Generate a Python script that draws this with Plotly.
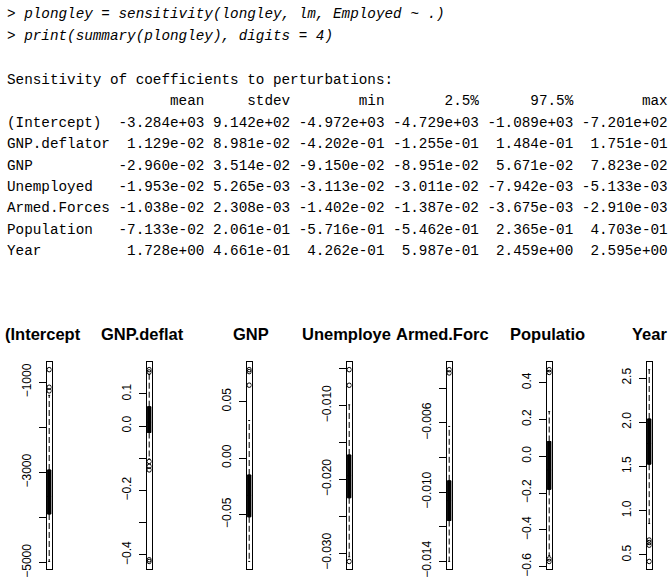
import plotly.graph_objects as go

W, H = 669, 585

# ---------------- console text data ----------------
cmd_lines = ["> plongley = sensitivity(longley, lm, Employed ~ .)",
             "> print(summary(plongley), digits = 4)"]
caption = "Sensitivity of coefficients to perturbations:"
row_names = ["(Intercept)", "GNP.deflator", "GNP", "Unemployed",
             "Armed.Forces", "Population", "Year"]
col_names = ["mean", "stdev", "min", "2.5%", "97.5%", "max"]
col_mean = [-3.284e+03, 1.129e-02, -2.960e-02, -1.953e-02, -1.038e-02, -7.133e-02, 1.728e+00]
col_stdev = [9.142e+02, 8.981e-02, 3.514e-02, 5.265e-03, 2.308e-03, 2.061e-01, 4.661e-01]
col_min = [-4.972e+03, -4.202e-01, -9.150e-02, -3.113e-02, -1.402e-02, -5.716e-01, 4.262e-01]
col_p025 = [-4.729e+03, -1.255e-01, -8.951e-02, -3.011e-02, -1.387e-02, -5.462e-01, 5.987e-01]
col_p975 = [-1.089e+03, 1.484e-01, 5.671e-02, -7.942e-03, -3.675e-03, 2.365e-01, 2.459e+00]
col_max = [-7.201e+02, 1.751e-01, 7.823e-02, -5.133e-03, -2.910e-03, 4.703e-01, 2.595e+00]

# ---------------- boxplot data ----------------
panel_titles = ["(Intercept", "GNP.deflat", "GNP", "Unemploye", "Armed.Forc", "Populatio", "Year"]
box_q1 = [-3920, -0.020, -0.052, -0.0225, -0.01165, -0.180, 1.526]
box_med = [-3530, 0.012, -0.033, -0.0195, -0.0105, -0.075, 1.760]
box_q3 = [-2945, 0.060, -0.015, -0.0167, -0.00935, 0.080, 2.037]
whisk_lo = [-4972, -0.102, -0.0915, -0.0305, -0.01402, -0.540, 0.855]
whisk_hi = [-1290, 0.160, 0.0332, -0.0099, -0.0062, 0.2425, 2.595]
outliers = [
    [-1190, -1110, -720.1],
    [0.1751, 0.168, -0.110, -0.125, -0.136, -0.415, -0.4202],
    [0.07823, 0.0765, 0.0645],
    [-0.005133, -0.00725, -0.03113],
    [-0.00291, -0.0031],
    [0.4703, 0.455, -0.558, -0.5716],
    [0.668, 0.640, 0.610, 0.4262],
]
tick_vals = [
    [-5000, -4000, -3000, -2000, -1000],
    [-0.4, -0.3, -0.2, -0.1, 0.0, 0.1],
    [-0.05, 0.00, 0.05],
    [-0.030, -0.025, -0.020, -0.015, -0.010, -0.005],
    [-0.014, -0.012, -0.010, -0.008, -0.006, -0.004],
    [-0.6, -0.4, -0.2, 0.0, 0.2, 0.4],
    [0.5, 1.0, 1.5, 2.0, 2.5],
]
M = "\u2212"
tick_text = [
    [M + "5000", "", M + "3000", "", M + "1000"],
    [M + "0.4", "", M + "0.2", "", "0.0", "0.1"],
    [M + "0.05", "0.00", "0.05"],
    [M + "0.030", "", M + "0.020", "", M + "0.010", ""],
    [M + "0.014", "", M + "0.010", "", M + "0.006", ""],
    [M + "0.6", M + "0.4", M + "0.2", "0.0", "0.2", "0.4"],
    ["0.5", "1.0", "1.5", "2.0", "2.5"],
]

# ---------------- layout constants ----------------
MONO = "Liberation Mono"
SANS = "Liberation Sans, Arial, sans-serif"
text_x = 5
cmd_y = [14, 37]
out_y0 = 81
out_dy = 21.7
title_left = [3, 99, 231, 300, 394, 508, 630]
title_y = 339
panel_c = [49.2 + 100 * i for i in range(7)]
panel_half = 2.4
frame_top, frame_bot = 367, 577


def px(x):
    return x / W


def py(y):
    return 1 - y / H


def nb(s):
    return s.replace(" ", "\u00a0")


# build table text like R's print
cols = [col_mean, col_stdev, col_min, col_p025, col_p975, col_max]
fmt_cols = []
for name, vals in zip(col_names, cols):
    strs = ["%.3e" % v for v in vals]
    w = max(max(len(s) for s in strs), len(name))
    fmt_cols.append((name.rjust(w), [s.rjust(w) for s in strs]))
namew = max(len(n) for n in row_names)
header = " " * namew + "".join(" " + h for h, _ in fmt_cols)
rows = []
for i, rn in enumerate(row_names):
    rows.append(rn.ljust(namew) + "".join(" " + c[i] for _, c in fmt_cols))

fig = go.Figure()
annotations = []
for s, y in zip(cmd_lines, cmd_y):
    annotations.append(dict(text="<i>" + nb(s) + "</i>", x=px(text_x), y=py(y),
                            xref="paper", yref="paper", xanchor="left", yanchor="middle",
                            showarrow=False, font=dict(family=MONO, size=14.3, color="black")))
out_lines = [caption, header] + rows
for i, s in enumerate(out_lines):
    annotations.append(dict(text=nb(s), x=px(text_x), y=py(out_y0 + i * out_dy),
                            xref="paper", yref="paper", xanchor="left", yanchor="middle",
                            showarrow=False, font=dict(family=MONO, size=14.3, color="black")))
for t, xl in zip(panel_titles, title_left):
    annotations.append(dict(text="<b>" + t + "</b>", x=px(xl), y=py(title_y),
                            xref="paper", yref="paper", xanchor="left", yanchor="middle",
                            showarrow=False, font=dict(family=SANS, size=16.5, color="black")))

layout_axes = {}
for i in range(7):
    k = "" if i == 0 else str(i + 1)
    xa, ya = "x" + k, "y" + k
    lo_all = min([whisk_lo[i]] + outliers[i])
    hi_all = max([whisk_hi[i]] + outliers[i])
    ext = 0.04 * (hi_all - lo_all)
    # box (no whiskers, drawn separately)
    fig.add_trace(go.Box(x=[1], q1=[box_q1[i]], median=[box_med[i]], q3=[box_q3[i]],
                         lowerfence=[box_q1[i]], upperfence=[box_q3[i]],
                         width=0.8, fillcolor="black", line=dict(color="black", width=1),
                         boxpoints=False, xaxis=xa, yaxis=ya, showlegend=False,
                         hoverinfo="skip"))
    # dashed whiskers
    for a, b in [(box_q3[i], whisk_hi[i]), (box_q1[i], whisk_lo[i])]:
        fig.add_trace(go.Scatter(x=[1, 1], y=[a, b], mode="lines",
                                 line=dict(color="black", width=1, dash="6px,3px"),
                                 xaxis=xa, yaxis=ya, showlegend=False, hoverinfo="skip"))
    # staples
    for v in [whisk_hi[i], whisk_lo[i]]:
        fig.add_trace(go.Scatter(x=[0.8, 1.2], y=[v, v], mode="lines",
                                 line=dict(color="black", width=1),
                                 xaxis=xa, yaxis=ya, showlegend=False, hoverinfo="skip"))
    # outliers
    fig.add_trace(go.Scatter(x=[1] * len(outliers[i]), y=outliers[i], mode="markers",
                             marker=dict(symbol="circle-open", size=4.5, color="black",
                                         line=dict(width=1, color="black")),
                             xaxis=xa, yaxis=ya, showlegend=False, hoverinfo="skip"))
    layout_axes["xaxis" + k] = dict(
        domain=[px(panel_c[i] - panel_half), px(panel_c[i] + panel_half)],
        range=[0.5, 1.5], showticklabels=False, ticks="", showgrid=False, zeroline=False,
        showline=True, mirror=True, linecolor="black", linewidth=1.3, anchor=ya,
        fixedrange=True)
    layout_axes["yaxis" + k] = dict(
        domain=[py(frame_bot), py(frame_top)],
        range=[lo_all - ext, hi_all + ext], tickmode="array",
        tickvals=tick_vals[i], ticktext=tick_text[i], ticks="outside", ticklen=7,
        tickwidth=1, tickcolor="black", tickangle=-90, showgrid=False, zeroline=False,
        showline=True, mirror=True, linecolor="black", linewidth=1.3, anchor=xa,
        tickfont=dict(family=SANS, size=12, color="black"), ticklabelstandoff=3,
        fixedrange=True)

fig.update_layout(width=W, height=H, margin=dict(l=0, r=0, t=0, b=0),
                  paper_bgcolor="white", plot_bgcolor="white",
                  annotations=annotations, showlegend=False, **layout_axes)
fig.write_html("out.html", config={"displayModeBar": False, "staticPlot": True},
               post_script="document.body.style.margin='0px';document.body.style.overflow='hidden';")
